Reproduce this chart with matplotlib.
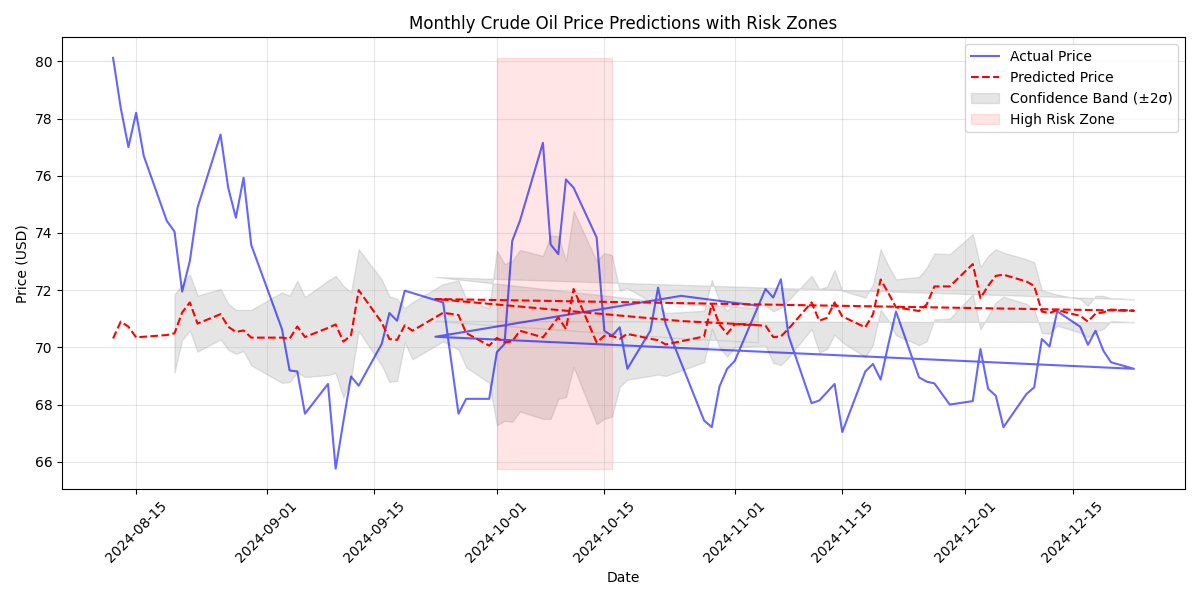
import matplotlib
matplotlib.use("Agg")
import matplotlib.pyplot as plt
import numpy as np
import pandas as pd

dates = [
    "2024-08-12", "2024-08-13", "2024-08-14", "2024-08-15", "2024-08-16",
    "2024-08-19", "2024-08-20", "2024-08-21", "2024-08-22", "2024-08-23",
    "2024-08-26", "2024-08-27", "2024-08-28", "2024-08-29", "2024-08-30",
    "2024-09-03", "2024-09-04", "2024-09-05", "2024-09-06",
    "2024-09-09", "2024-09-10", "2024-09-11", "2024-09-12", "2024-09-13",
    "2024-09-16", "2024-09-17", "2024-09-18", "2024-09-19", "2024-09-20",
    "2024-09-24", "2024-09-26", "2024-09-27",
    "2024-09-30", "2024-10-01", "2024-10-02", "2024-10-03", "2024-10-04",
    "2024-10-07", "2024-10-08", "2024-10-09", "2024-10-10", "2024-10-11",
    "2024-10-14", "2024-10-15", "2024-10-16", "2024-10-17", "2024-10-18",
    "2024-10-21", "2024-10-22", "2024-10-23",
    "2024-10-28", "2024-10-29", "2024-10-30", "2024-10-31", "2024-11-01",
    "2024-11-05", "2024-11-06", "2024-11-07", "2024-11-08",
    "2024-11-11", "2024-11-12", "2024-11-13", "2024-11-14", "2024-11-15",
    "2024-11-18", "2024-11-19", "2024-11-20", "2024-11-21", "2024-11-22",
    "2024-11-25", "2024-11-26", "2024-11-27", "2024-11-29",
    "2024-12-02", "2024-12-03", "2024-12-04", "2024-12-05", "2024-12-06",
    "2024-12-09", "2024-12-10", "2024-12-11", "2024-12-12", "2024-12-13",
    "2024-12-16", "2024-12-17", "2024-12-18", "2024-12-19", "2024-12-20",
    "2024-12-23",
    "2024-09-23", "2024-10-25", "2024-11-04",
]

actual_price = [
    80.12, 78.37, 77.00, 78.20, 76.69,
    74.42, 74.05, 71.95, 73.02, 74.88,
    77.44, 75.58, 74.53, 75.93, 73.58,
    70.64, 69.19, 69.16, 67.68,
    68.72, 65.76, 67.40, 68.98, 68.66,
    70.12, 71.20, 70.93, 71.98, 71.90,
    71.57, 67.68, 68.20,
    68.20, 69.83, 70.12, 73.72, 74.42,
    77.15, 73.60, 73.26, 75.87, 75.58,
    73.84, 70.58, 70.40, 70.70, 69.25,
    70.58, 72.09, 70.81,
    67.44, 67.21, 68.63, 69.25, 69.53,
    72.04, 71.74, 72.38, 70.40,
    68.05, 68.14, 68.43, 68.72, 67.04,
    69.16, 69.42, 68.87, 70.10, 71.25,
    68.95, 68.80, 68.74, 68.00,
    68.12, 69.94, 68.55, 68.31, 67.21,
    68.37, 68.60, 70.29, 70.03, 71.26,
    70.72, 70.09, 70.58, 69.89, 69.48,
    69.25,
    70.37, 71.80, 71.45,
]

predicted_price = [
    70.31, 70.90, 70.72, 70.35, 70.37,
    70.43, 70.49, 71.22, 71.57, 70.83,
    71.16, 70.72, 70.54, 70.59, 70.34,
    70.34, 70.30, 70.73, 70.36,
    70.68, 70.80, 70.20, 70.42, 72.00,
    70.87, 70.29, 70.26, 70.77, 70.58,
    71.21, 71.13, 70.50,
    70.06, 70.33, 70.17, 70.21, 70.58,
    70.35, 70.70, 71.05, 70.64, 72.04,
    70.17, 70.40, 70.40, 70.30, 70.47,
    70.30, 70.25, 70.10,
    70.38, 71.51, 70.80, 70.47, 70.81,
    70.76, 70.36, 70.38, 70.65,
    71.57, 70.93, 71.03, 71.57, 71.08,
    70.70, 71.15, 72.37, 71.90, 71.40,
    71.27, 71.50, 72.13, 72.13,
    72.91, 71.72, 72.15, 72.50, 72.54,
    72.30, 72.15, 71.25, 71.20, 71.30,
    71.10, 70.90, 71.18, 71.22, 71.32,
    71.28,
    71.69, 70.92, 70.78,
]

# half width of the confidence band (2 sigma)
band_half_width = [
    np.nan, np.nan, np.nan, np.nan, np.nan,
    np.nan, 1.37, 0.96, 0.98, 0.98,
    0.88, 0.80, 0.77, 0.72, 0.97,
    1.58, 1.51, 1.60, 1.40,
    1.65, 1.70, 1.95, 1.50, 1.43,
    1.50, 1.50, 1.43, 0.60, 1.00,
    1.00, 1.21, 1.20,
    1.30, 3.05, 2.74, 2.81, 2.82,
    2.85, 3.20, 2.85, 2.38, 2.73,
    2.85, 2.90, 2.82, 1.68, 1.60,
    1.30, 1.20, 1.10,
    0.90, 0.85, 0.80, 0.80, 0.80,
    0.70, 0.90, 1.00, 1.00,
    0.93, 1.11, 1.09, 1.13, 0.90,
    1.04, 1.05, 1.06, 0.95, 0.98,
    1.19, 1.29, 1.15, 1.13,
    1.05, 1.10, 1.05, 0.93, 0.77,
    0.78, 0.82, 0.75, 0.72, 0.54,
    0.59, 0.55, 0.62, 0.58, 0.40,
    0.40,
    0.77, 0.60, 0.60,
]

risk_start = "2024-10-01"
risk_end = "2024-10-16"

x = pd.to_datetime(pd.Series(dates))
actual = np.array(actual_price)
pred = np.array(predicted_price)
hw = np.array(band_half_width)
upper = pred + hw
lower = pred - hw

fig, ax = plt.subplots(figsize=(12, 6), dpi=100)
ax.plot(x, actual, color="blue", alpha=0.6, label="Actual Price")
ax.plot(x, pred, "r--", label="Predicted Price")
ax.fill_between(x, lower, upper, color="gray", alpha=0.2,
                label="Confidence Band (±2σ)")
mask = (x >= pd.Timestamp(risk_start)) & (x <= pd.Timestamp(risk_end))
ax.fill_between(x[mask], actual.min(), actual.max(), color="red", alpha=0.1,
                label="High Risk Zone")

ax.set_title("Monthly Crude Oil Price Predictions with Risk Zones")
ax.set_xlabel("Date")
ax.set_ylabel("Price (USD)")
ax.legend(loc="upper right")
ax.grid(True, alpha=0.3)
plt.setp(ax.get_xticklabels(), rotation=45)
fig.tight_layout()
fig.savefig("out.png")
